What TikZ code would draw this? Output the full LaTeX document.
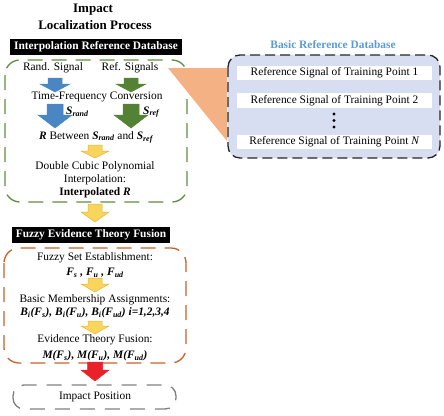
\documentclass[tikz,border=0pt]{standalone}
\usepackage{fontspec}
\setmainfont{Liberation Serif}
\definecolor{arrblue}{HTML}{4A86C4}
\definecolor{arrgreen}{HTML}{548235}
\definecolor{arryel}{HTML}{FAD55C}
\definecolor{arryeld}{HTML}{E3B43C}
\definecolor{arrred}{HTML}{E8212A}
\definecolor{frgreen}{HTML}{5E8E3E}
\definecolor{frorange}{HTML}{C9602A}
\definecolor{frgray}{HTML}{7F7F7F}
\definecolor{dbfill}{HTML}{D7DEF1}
\definecolor{dbtitle}{HTML}{5B9BD5}
\definecolor{triorange}{HTML}{F4B183}
\newcommand\blkarrow[8]{%
  \filldraw[fill=#7,draw=#8,line width=0.5pt,line join=miter]
    (#1-#4/2,#2) -- (#1+#4/2,#2) -- (#1+#4/2,#3-#6) -- (#1+#5/2,#3-#6)
    -- (#1,#3) -- (#1-#5/2,#3-#6) -- (#1-#4/2,#3-#6) -- cycle;}
\newcommand\bsub[1]{\textsubscript{#1}}
\begin{document}
\begin{tikzpicture}[x=1pt,y=-1pt,
  txt/.style={inner sep=0pt, font=\fontsize{11.4}{13}\selectfont, align=center},
  bi/.style={inner sep=0pt, font=\fontsize{11.4}{13}\selectfont\bfseries\itshape, align=center},
  ttl/.style={inner sep=0pt, font=\fontsize{13}{15}\selectfont\bfseries},
  banner/.style={fill=black, text=white, inner xsep=4pt, inner ysep=0pt,
    minimum height=16pt, font=\fontsize{11.4}{13}\selectfont\bfseries},
  gframe/.style={draw=frgreen, line width=1.3pt, rounded corners=15pt, dash pattern=on 15pt off 9pt},
  oframe/.style={draw=frorange, line width=1.3pt, rounded corners=15pt, dash pattern=on 15pt off 9pt},
  yframe/.style={draw=frgray, line width=1.3pt, rounded corners=11pt, dash pattern=on 15pt off 10pt},
  dbframe/.style={fill=dbfill, draw=black!85, line width=1.3pt, rounded corners=12pt, dash pattern=on 10pt off 5pt},
  row/.style={fill=white, minimum width=195pt, minimum height=14.5pt, inner sep=0pt,
    font=\fontsize{11.4}{13}\selectfont}
]
\useasboundingbox (0,0) rectangle (444,415);

% titles
\node[ttl] (t1) at (93,10) {Impact};
\node[ttl] (t2) at (95,25) {Localization Process};

% green frame
\draw[gframe] (5,60) rectangle (187,202);
\node[banner] (b1) at (96,47) {Interpolation Reference Database};

\node[txt] (rand) at (53,68) {Rand. Signal};
\node[txt] (ref) at (130,68) {Ref. Signals};
\blkarrow{55}{78}{92}{14}{30}{8}{arrblue}{arrblue}
\blkarrow{131}{78}{92}{14}{30}{8}{arrgreen}{arrgreen}
\node[txt] (tf) at (97,97) {Time-Frequency Conversion};
\blkarrow{55}{104}{128}{16}{34}{13}{arrblue}{arrblue}
\blkarrow{131}{104}{128}{16}{34}{13}{arrgreen}{arrgreen}
\node[bi, anchor=west] (srand) at (66,112) {S\bsub{rand}};
\node[bi, anchor=west] (sref) at (143,112) {S\bsub{ref}};
\node[txt] (rb) at (96,137) {\textbf{\textit{R}} Between \textbf{\textit{S\bsub{rand}}} and \textbf{\textit{S\bsub{ref}}}};
\blkarrow{95}{145}{158}{14}{28}{7}{arryel}{arryeld}
\node[txt] (dc) at (95,180) {Double Cubic Polynomial\\Interpolation:\\\textbf{Interpolated \textit{R}}};

\blkarrow{95}{204}{222}{14}{28}{10}{arryel}{arryeld}

% orange frame
\draw[oframe] (4,248) rectangle (186,363);
\node[banner] (b2) at (91,235) {Fuzzy Evidence Theory Fusion};
\node[txt] (fs) at (95,258) {Fuzzy Set Establishment:};
\node[bi] (fsv) at (95,273) {F\bsub{s} , F\bsub{u} , F\bsub{ud}};
\blkarrow{95}{278}{292}{14}{28}{8}{arryel}{arryeld}
\node[txt] (bm) at (95,300) {Basic Membership Assignments:};
\node[bi] (bmv) at (95,313) {B\bsub{i}(F\bsub{s}), B\bsub{i}(F\bsub{u}), B\bsub{i}(F\bsub{ud}) i=1,2,3,4};
\blkarrow{95}{321}{334}{14}{28}{8}{arryel}{arryeld}
\node[txt] (et) at (95,340) {Evidence Theory Fusion:};
\node[bi] (etv) at (95,356) {M(F\bsub{s}), M(F\bsub{u}), M(F\bsub{ud})};

\blkarrow{95}{362}{381}{15}{28}{11}{arrred}{arrred}

% impact position
\draw[yframe] (13,385) rectangle (176,409);
\node[txt] (ip) at (95,397) {Impact Position};

% orange triangle
\fill[triorange] (168,68) -- (227,68) -- (227,141) -- cycle;

% basic reference database
\node[inner sep=0pt, font=\fontsize{11.4}{13}\selectfont\bfseries, text=dbtitle] (dbt) at (333,45) {Basic Reference Database};
\draw[dbframe] (228,55) rectangle (440,158);
\node[row] (r1) at (334.5,73) {Reference Signal of Training Point 1};
\node[row] (r2) at (334.5,100.5) {Reference Signal of Training Point 2};
\node[row] (rn) at (334.5,142) {Reference Signal of Training Point \textit{N}};
\fill (334,114) circle (1.6pt) (334,120.5) circle (1.6pt) (334,127) circle (1.6pt);
\end{tikzpicture}
\end{document}
